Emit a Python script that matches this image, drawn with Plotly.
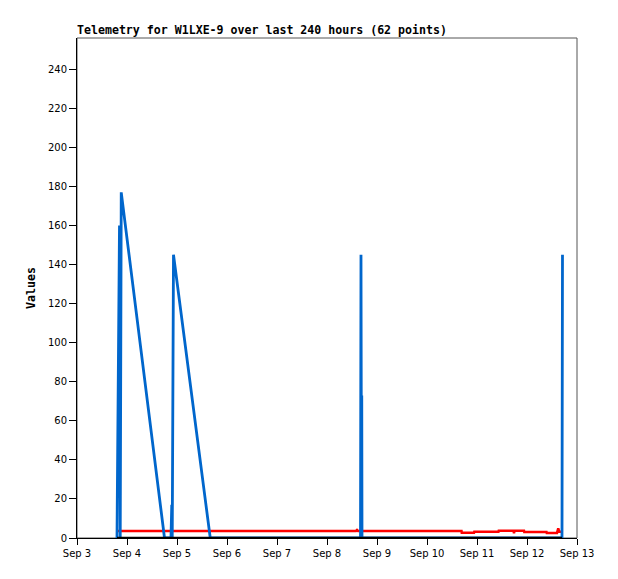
import plotly.graph_objects as go

# ---- data ----
blue_times = ["2024-09-03 19:12", "2024-09-03 20:24", "2024-09-03 20:45", "2024-09-03 21:14",
              "2024-09-04 18:00", "2024-09-04 21:07", "2024-09-04 21:29", "2024-09-04 21:43",
              "2024-09-04 22:19", "2024-09-05 15:58", "2024-09-08 16:05", "2024-09-08 16:19",
              "2024-09-08 16:34", "2024-09-08 16:41", "2024-09-08 16:48", "2024-09-12 16:48",
              "2024-09-12 17:02"]
blue_values = [0, 160, 0, 177, 0, 0, 17, 0, 145, 0, 0, 145, 0, 73, 0, 0, 145]

red_times = ["2024-09-03 19:12", "2024-09-08 13:55", "2024-09-08 14:24", "2024-09-08 14:53",
             "2024-09-10 16:34", "2024-09-10 16:41", "2024-09-10 22:34", "2024-09-10 22:41",
             "2024-09-11 10:19", "2024-09-11 10:26", "2024-09-11 17:31", "2024-09-11 17:46",
             "2024-09-11 18:00", "2024-09-11 22:34", "2024-09-11 22:41", "2024-09-12 09:22",
             "2024-09-12 09:29", "2024-09-12 14:24", "2024-09-12 15:00", "2024-09-12 15:29",
             "2024-09-12 16:48"]
red_values = [3.6, 3.6, 4.1, 3.6, 3.6, 2.7, 2.7, 3.2, 3.2, 3.7, 3.7, 2.5, 3.7, 3.7, 3.1, 3.1,
              2.6, 2.6, 5.0, 3.2, 3.2]

black_times = ["2024-09-03 19:12", "2024-09-12 16:48"]
black_values = [0, 0]

x_tick_values = ["2024-09-%02d" % d for d in range(3, 14)]
x_tick_labels = ["Sep %d" % d for d in range(3, 14)]
y_tick_values = list(range(0, 241, 20))

title_text = "Telemetry for W1LXE-9 over last 240 hours (62 points)"
y_title = "Values"

# ---- figure ----
fig = go.Figure()
fig.add_trace(go.Scatter(x=red_times, y=red_values, mode="lines",
                         line=dict(color="#FF0000", width=2.5), showlegend=False))
fig.add_trace(go.Scatter(x=blue_times, y=blue_values, mode="lines",
                         line=dict(color="#0066CC", width=2.8), showlegend=False))
fig.add_trace(go.Scatter(x=black_times, y=black_values, mode="lines",
                         line=dict(color="#000000", width=2.5), showlegend=False))

# page body has an 8px margin, so the figure is 8px smaller and its margins are shifted
fig.update_layout(
    width=610, height=571,
    margin=dict(l=69, r=41, t=30, b=41),
    paper_bgcolor="white", plot_bgcolor="white",
    title=dict(text="<b>" + title_text + "</b>", xref="paper", x=0, xanchor="left",
               yref="paper", y=1, yanchor="bottom", pad=dict(b=4),
               font=dict(family="DejaVu Sans Mono", size=11.6, color="black")),
    shapes=[dict(type="rect", xref="paper", yref="paper", x0=0, x1=1, y0=0, y1=1,
                 line=dict(color="#555555", width=1), layer="below")],
    annotations=[dict(text="<b>" + y_title + "</b>", xref="paper", yref="paper",
                      x=-0.092, y=0.5, textangle=-90, showarrow=False,
                      xanchor="center", yanchor="middle",
                      font=dict(family="DejaVu Sans Mono", size=11.6, color="black"))],
)
fig.update_xaxes(
    type="date", range=["2024-09-03 00:00", "2024-09-13 00:00"],
    tickvals=x_tick_values, ticktext=x_tick_labels,
    showgrid=False, zeroline=False, showline=True, linecolor="black", linewidth=1,
    ticks="outside", ticklen=6, tickcolor="black",
    tickfont=dict(family="DejaVu Sans", size=10, color="black"),
)
fig.update_yaxes(
    range=[0, 256], tickvals=y_tick_values,
    showgrid=False, zeroline=False, showline=True, linecolor="black", linewidth=1,
    ticks="outside", ticklen=7, tickcolor="black",
    tickfont=dict(family="DejaVu Sans", size=10, color="black"),
)

fig.write_html("out.html")
